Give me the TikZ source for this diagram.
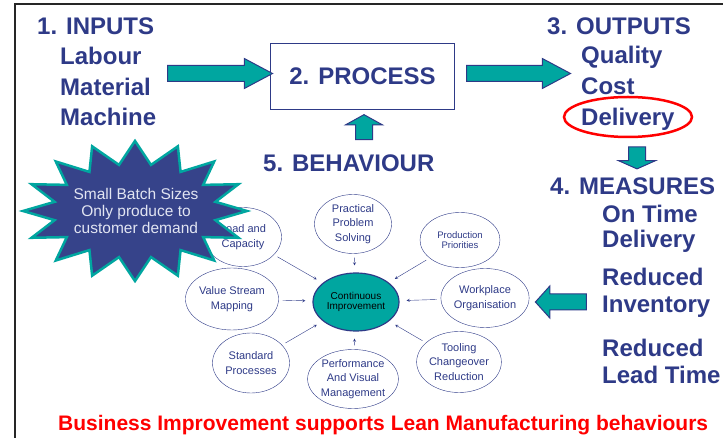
\documentclass[tikz,border=0pt]{standalone}
\usepackage{fontspec}
\setmainfont{Liberation Sans}
\usepackage{tikz}
\usetikzlibrary{shapes}
\usetikzlibrary{arrows}
\definecolor{navy}{RGB}{46,58,135}
\definecolor{cyanfill}{RGB}{0,166,160}
\definecolor{burstfill}{RGB}{54,67,138}
\definecolor{bursttext}{RGB}{226,229,242}

\tikzset{
  heading/.style={anchor=base west, inner sep=0, text=navy,
    font=\fontsize{24}{24}\selectfont\bfseries},
  fat/.style={single arrow, draw=navy, fill=cyanfill, line width=1pt,
    inner xsep=0, inner ysep=7.5pt, minimum width=0,
    single arrow head extend=7pt},
  bubble/.style={ellipse, draw=navy, thin, inner sep=0, align=center,
    text=navy, font=\fontsize{11}{14.5}\selectfont,
    minimum width=77, minimum height=59},
  spoke/.style={->, >=stealth, navy, shorten <=4pt, shorten >=7pt}
}

\begin{document}
\begin{tikzpicture}[x=1pt, y=-1pt]
  \useasboundingbox (0,0) rectangle (723,438);
  \draw[line width=1.5pt, black!85] (15,438) -- (15,4) -- (723,4);

  % inputs, process, outputs
  \node[heading] (inputs) at (37,35) {1. INPUTS};
  \foreach \t/\y/\n in {Labour/65/labour, Material/96/material, Machine/126/machine}
    \node[heading] (\n) at (60,\y) {\t};

  \node[draw=navy, line width=1.2pt, minimum width=184, minimum height=66,
    text=navy, font=\fontsize{24}{24}\selectfont\bfseries] (process) at (362.5,76.5) {2. PROCESS};

  \node[heading] (outputs) at (547,35) {3. OUTPUTS};
  \foreach \t/\y/\n in {Quality/64/quality, Cost/95/cost, Delivery/126/delivery}
    \node[heading] (\n) at (581,\y) {\t};
  \node[ellipse, draw=red, line width=2.5pt, minimum width=128,
    minimum height=40] (circled) at (628,117) {};

  \node[fat, minimum height=105, single arrow tip angle=56] (in2proc) at (212.5,73.5) {};
  \node[fat, minimum height=104, single arrow tip angle=56] (proc2out) at (511,73.5) {};
  \node[fat, minimum height=22, inner ysep=8pt, single arrow head extend=10pt,
    single arrow tip angle=132, rotate=-90] (out2meas) at (637,156) {};

  % measures
  \node[heading] (measures) at (550,195) {4. MEASURES};
  \foreach \t/\y/\n in {On Time/223/ontime, Delivery/248/ontime2,
      Reduced/286/inv, Inventory/313/inv2, Reduced/356/lead, Lead Time/383/lead2}
    \node[heading] (\n) at (602,\y) {\t};
  \node[fat, minimum height=51, single arrow head extend=8pt,
    single arrow tip angle=96, rotate=180] (meas2ci) at (564.5,302) {};

  % behaviour
  \node[heading] (behaviour) at (263,172) {5. BEHAVIOUR};
  \node[fat, minimum height=25, inner ysep=8pt, single arrow head extend=10pt,
    single arrow tip angle=122, rotate=90] (beh2proc) at (364,129.5) {};

  \node[ellipse, draw=navy, line width=1.2pt, fill=cyanfill, inner sep=0,
    minimum width=86, minimum height=58, align=center,
    font=\fontsize{10}{10}\selectfont] (ci) at (356,302) {Continuous\\Improvement};

  \node[bubble] (load) at (243,237) {Load and\\Capacity};
  \node[bubble] (practical) at (353,224) {Practical\\Problem\\Solving};
  \node[bubble, minimum width=80, minimum height=55,
    font=\fontsize{9.5}{10}\selectfont] (priorities) at (460,240) {Production\\Priorities};
  \node[bubble] (workplace) at (485,298) {Workplace\\Organisation};
  \node[bubble, minimum height=61] (tooling) at (459,362) {Tooling\\Changeover\\Reduction};
  \node[bubble] (performance) at (353,379) {Performance\\And Visual\\Management};
  \node[bubble, minimum height=60] (standard) at (251,363) {Standard\\Processes};
  \node[bubble, minimum height=62] (valuestream) at (232,299) {Value Stream\\Mapping};

  \foreach \b in {load, practical, priorities, workplace, tooling,
      performance, standard, valuestream}
    \draw[spoke] (\b) -- (ci);

  % starburst
  \filldraw[fill=burstfill, draw=cyanfill, line width=2.5pt, miter limit=20]
    (247,211) \foreach \k in {1,...,31} {
      -- ({135+ifthenelse(mod(\k,2)==0,112,82)*cos(\k*11.25)},
          {211+ifthenelse(mod(\k,2)==0,70,47)*sin(\k*11.25)})
    } -- cycle;
  \node[align=center, text=bursttext, inner sep=0,
    font=\fontsize{15.5}{17}\selectfont] (batch) at (136,211)
    {Small Batch Sizes\\Only produce to\\customer demand};

  \node[anchor=base west, inner sep=0, text=red,
    font=\fontsize{21}{21}\selectfont\bfseries] (footer) at (58,430)
    {Business Improvement supports Lean Manufacturing behaviours};
\end{tikzpicture}
\end{document}
